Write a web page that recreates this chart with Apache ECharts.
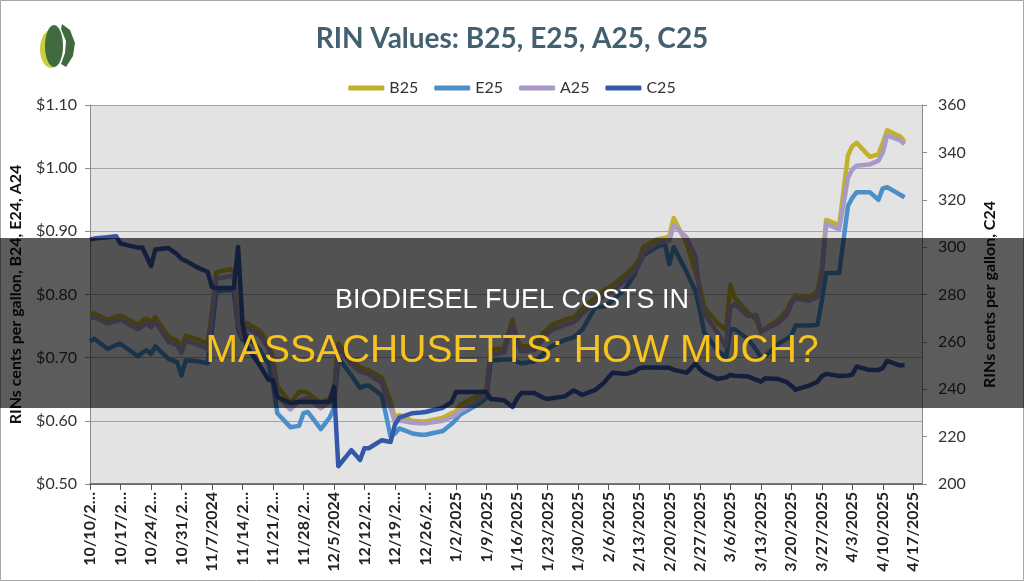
<!DOCTYPE html>
<html>
<head>
<meta charset="utf-8">
<title>RIN Values</title>
<script src="https://cdn.jsdelivr.net/npm/echarts@6.0.0/dist/echarts.min.js"></script>
<style>
  html, body { margin: 0; padding: 0; background: #fff; }
  #main { width: 1024px; height: 581px; }
</style>
</head>
<body>
<div id="main"></div>
<script>
// sample dates (one per row of values below)
const dates = [
  '2024-10-10','2024-10-11','2024-10-14','2024-10-16','2024-10-17','2024-10-21','2024-10-22','2024-10-23','2024-10-24','2024-10-25','2024-10-28','2024-10-30','2024-10-31',
  '2024-11-01','2024-11-04','2024-11-06','2024-11-07','2024-11-08','2024-11-11','2024-11-12','2024-11-13','2024-11-14','2024-11-15','2024-11-18','2024-11-20','2024-11-21','2024-11-22','2024-11-25','2024-11-27','2024-11-28','2024-11-29',
  '2024-12-02','2024-12-04','2024-12-05','2024-12-06','2024-12-09','2024-12-11','2024-12-12','2024-12-13','2024-12-16','2024-12-18','2024-12-19','2024-12-20','2024-12-23','2024-12-25','2024-12-26','2024-12-30',
  '2025-01-01','2025-01-02','2025-01-03','2025-01-06','2025-01-08','2025-01-09','2025-01-10','2025-01-13','2025-01-15','2025-01-16','2025-01-17','2025-01-20','2025-01-22','2025-01-23','2025-01-24','2025-01-27','2025-01-29','2025-01-30','2025-01-31',
  '2025-02-03','2025-02-05','2025-02-06','2025-02-07','2025-02-10','2025-02-12','2025-02-13','2025-02-14','2025-02-17','2025-02-19','2025-02-20','2025-02-21','2025-02-24','2025-02-26','2025-02-27','2025-02-28',
  '2025-03-03','2025-03-05','2025-03-06','2025-03-07','2025-03-10','2025-03-12','2025-03-13','2025-03-14','2025-03-17','2025-03-19','2025-03-20','2025-03-21','2025-03-24','2025-03-26','2025-03-27','2025-03-28','2025-03-31',
  '2025-04-02','2025-04-03','2025-04-04','2025-04-07','2025-04-09','2025-04-10','2025-04-11','2025-04-14','2025-04-15'
];

// $ per gallon (left axis)
const b25 = [
  0.770,0.770,0.760,0.765,0.767,0.752,0.758,0.762,0.756,0.764,0.733,0.727,0.716,
  0.735,0.728,0.722,0.775,0.835,0.840,0.838,0.760,0.740,0.755,0.742,0.722,0.700,0.655,0.628,0.646,0.646,0.644,
  0.628,0.636,0.650,0.722,0.696,0.685,0.682,0.680,0.668,0.630,0.606,0.609,0.600,0.599,0.599,0.605,
  0.612,0.615,0.625,0.636,0.645,0.650,0.712,0.715,0.760,0.730,0.717,0.720,0.739,0.745,0.752,0.760,0.764,0.770,0.778,
  0.795,0.807,0.810,0.815,0.832,0.845,0.855,0.875,0.887,0.890,0.892,0.921,0.880,0.835,0.812,0.780,
  0.755,0.744,0.815,0.795,0.772,0.760,0.740,0.746,0.760,0.775,0.790,0.799,0.795,0.805,0.840,0.918,0.910,
  1.020,1.035,1.040,1.018,1.022,1.040,1.060,1.050,1.042
];
const e25 = [
  0.726,0.730,0.714,0.720,0.722,0.702,0.708,0.712,0.706,0.718,0.698,0.693,0.672,
  0.696,0.694,0.691,0.745,0.805,0.807,0.806,0.745,0.728,0.735,0.712,0.690,0.660,0.612,0.590,0.592,0.612,0.614,
  0.587,0.605,0.620,0.700,0.672,0.652,0.655,0.656,0.640,0.575,0.580,0.588,0.580,0.578,0.578,0.584,
  0.595,0.602,0.610,0.622,0.630,0.636,0.695,0.697,0.697,0.694,0.691,0.694,0.705,0.713,0.718,0.728,0.732,0.738,0.744,
  0.780,0.781,0.785,0.791,0.810,0.832,0.848,0.862,0.875,0.880,0.848,0.875,0.835,0.805,0.775,0.740,
  0.712,0.700,0.745,0.745,0.730,0.712,0.700,0.702,0.722,0.730,0.735,0.751,0.751,0.752,0.790,0.834,0.834,
  0.940,0.953,0.962,0.962,0.950,0.968,0.970,0.958,0.954
];
const a25 = [
  0.763,0.764,0.754,0.758,0.760,0.745,0.750,0.755,0.748,0.757,0.725,0.720,0.708,
  0.727,0.720,0.714,0.765,0.825,0.829,0.828,0.752,0.732,0.748,0.735,0.714,0.690,0.640,0.618,0.632,0.634,0.636,
  0.620,0.630,0.640,0.716,0.690,0.678,0.676,0.674,0.660,0.620,0.598,0.601,0.597,0.596,0.596,0.600,
  0.606,0.610,0.616,0.627,0.638,0.645,0.705,0.708,0.752,0.722,0.710,0.712,0.730,0.737,0.744,0.752,0.756,0.762,0.770,
  0.786,0.798,0.802,0.806,0.823,0.836,0.846,0.866,0.880,0.884,0.885,0.910,0.890,0.860,0.800,0.770,
  0.740,0.718,0.780,0.785,0.766,0.768,0.742,0.745,0.755,0.768,0.785,0.794,0.790,0.796,0.830,0.912,0.903,
  0.985,0.998,1.004,1.006,1.012,1.025,1.052,1.044,1.038
];
// cents per gallon (right axis)
const c25 = [
  303.2,303.6,304.2,304.6,301.5,299.8,299.8,296.0,292.0,299.0,299.6,297.0,295.0,
  294.2,291.1,289.6,283.1,282.7,282.7,282.7,300.1,268.0,258.0,250.0,244.0,243.9,236.7,234.2,234.6,234.6,234.6,
  234.6,234.6,241.0,207.5,214.3,210.1,215.1,215.1,218.5,217.7,225.0,228.0,229.9,230.2,230.4,232.2,
  234.6,238.8,238.8,238.8,238.8,238.8,235.9,235.4,232.5,236.0,238.4,238.4,236.5,235.9,236.2,237.0,239.5,238.6,237.6,
  239.7,242.8,245.0,247.0,246.4,247.5,248.8,249.2,249.2,249.1,249.1,248.2,247.0,250.9,248.5,247.0,
  244.3,245.0,246.0,245.7,245.4,244.0,243.2,244.6,244.3,243.0,241.5,239.8,241.5,243.2,245.5,246.5,245.6,
  245.8,246.2,249.6,248.1,248.1,249.0,252.0,250.0,250.2
];

// weekly tick labels, as printed (some cut short)
const tickLabels = [
  '10/10/2…','10/17/2…','10/24/2…','10/31/2…','11/7/2024','11/14/2…','11/21/2…','11/28/2…',
  '12/5/2024','12/12/2…','12/19/2…','12/26/2…','1/2/2025','1/9/2025','1/16/2025','1/23/2025',
  '1/30/2025','2/6/2025','2/13/2025','2/20/2025','2/27/2025','3/6/2025','3/13/2025','3/20/2025',
  '3/27/2025','4/3/2025','4/10/2025','4/17/2025'
];

const seriesNames = ['B25', 'E25', 'A25', 'C25'];
const seriesColors = ['#c2b12c', '#4b8fca', '#a999c6', '#3557a8'];

// day number from 10/10/2024
const t0 = Date.UTC(2024, 9, 10);
function dayOf(s) {
  const p = s.split('-');
  return (Date.UTC(+p[0], +p[1] - 1, +p[2]) - t0) / 86400000;
}
const days = dates.map(dayOf);
function pairs(vals) {
  return vals.map((v, i) => [days[i], v]);
}

const chart = echarts.init(document.getElementById('main'), null, { renderer: 'canvas' });

const values = [b25, e25, a25, c25];
const series = seriesNames.map((name, i) => ({
  name: name,
  type: 'line',
  yAxisIndex: name === 'C25' ? 1 : 0,
  data: pairs(values[i]),
  symbol: 'none',
  lineStyle: { width: 4.5, color: seriesColors[i], join: 'round' },
  itemStyle: { color: seriesColors[i] }
}));

const option = {
  animation: false,
  backgroundColor: '#ffffff',
  title: {
    text: 'RIN Values: B25, E25, A25, C25',
    left: 'center',
    top: 20,
    textStyle: { fontFamily: 'Lato', fontSize: 28, fontWeight: 'bold', color: '#42606f' }
  },
  legend: {
    data: seriesNames,
    top: 75,
    left: 'center',
    icon: 'roundRect',
    itemWidth: 36,
    itemHeight: 5,
    itemGap: 16,
    textStyle: { fontFamily: 'Lato', fontSize: 16, color: '#333' }
  },
  grid: {
    left: 84, right: 102, top: 105, bottom: 97,
    show: true, backgroundColor: '#e3e3e3', borderWidth: 0
  },
  xAxis: {
    type: 'value',
    min: 0, max: 191, interval: 7,
    axisLine: { onZero: false, lineStyle: { color: '#555', width: 1.5 } },
    axisTick: { show: true, length: 6, lineStyle: { color: '#555' } },
    axisLabel: {
      rotate: 90, margin: 8,
      fontFamily: 'Lato', fontSize: 16, fontWeight: 'bold', color: '#222',
      showMaxLabel: false,
      formatter: v => (v % 7 === 0 ? (tickLabels[v / 7] || '') : '')
    },
    splitLine: { show: false }
  },
  yAxis: [
    {
      type: 'value', position: 'left',
      min: 0.5, max: 1.1, interval: 0.1,
      name: 'RINs cents per gallon, B24, E24, A24',
      nameLocation: 'middle', nameGap: 66,
      nameTextStyle: { fontFamily: 'Lato', fontSize: 16, fontWeight: 'bold', color: '#111' },
      axisLine: { show: true, onZero: false, lineStyle: { color: '#8c8c8c' } },
      axisTick: { show: true, length: 5, lineStyle: { color: '#8c8c8c' } },
      axisLabel: {
        margin: 13, fontFamily: 'Lato', fontSize: 16, color: '#333',
        formatter: v => '$' + v.toFixed(2)
      },
      splitLine: { show: true, lineStyle: { color: '#a3a3a3', width: 1.2 } }
    },
    {
      type: 'value', position: 'right',
      min: 200, max: 360, interval: 20,
      name: 'RINs cents per gallon, C24',
      nameLocation: 'middle', nameGap: 60,
      nameTextStyle: { fontFamily: 'Lato', fontSize: 16, fontWeight: 'bold', color: '#111' },
      axisLine: { show: true, onZero: false, lineStyle: { color: '#8c8c8c' } },
      axisTick: { show: true, length: 5, lineStyle: { color: '#8c8c8c' } },
      axisLabel: { margin: 16, fontFamily: 'Lato', fontSize: 16, color: '#333' },
      splitLine: { show: false }
    }
  ],
  series: series,
  graphic: [
    // frame round the picture
    { type: 'rect', z: 0, shape: { x: 0.5, y: 0.5, width: 1023, height: 580 },
      style: { fill: 'none', stroke: '#a6a6a6', lineWidth: 1 } },
    // logo
    { type: 'ellipse', z: 100, shape: { cx: 51, cy: 49, rx: 11, ry: 19 }, style: { fill: '#c8cf3e' } },
    { type: 'ellipse', z: 101, shape: { cx: 54, cy: 46, rx: 9, ry: 21 }, style: { fill: '#3f6b3f' } },
    { type: 'polygon', z: 101, shape: { points: [[62,24],[70,30],[75,43],[73,56],[66,67],[61,64],[65,53],[66,41],[61,29]] },
      style: { fill: '#3f6b3f' } },
    // dark band with headline
    { type: 'rect', z: 200, shape: { x: 0, y: 238, width: 1024, height: 170 },
      style: { fill: 'rgba(0,0,0,0.64)' } },
    { type: 'text', z: 201, x: 512, y: 301,
      style: { text: 'BIODIESEL FUEL COSTS IN', fill: '#ffffff', font: '27px "Liberation Sans"',
               textAlign: 'center', textVerticalAlign: 'middle' } },
    { type: 'text', z: 201, x: 512, y: 351,
      style: { text: 'MASSACHUSETTS: HOW MUCH?', fill: '#f7c31c', font: '39px "Liberation Sans"',
               textAlign: 'center', textVerticalAlign: 'middle' } }
  ]
};

chart.setOption(option);
</script>
</body>
</html>
